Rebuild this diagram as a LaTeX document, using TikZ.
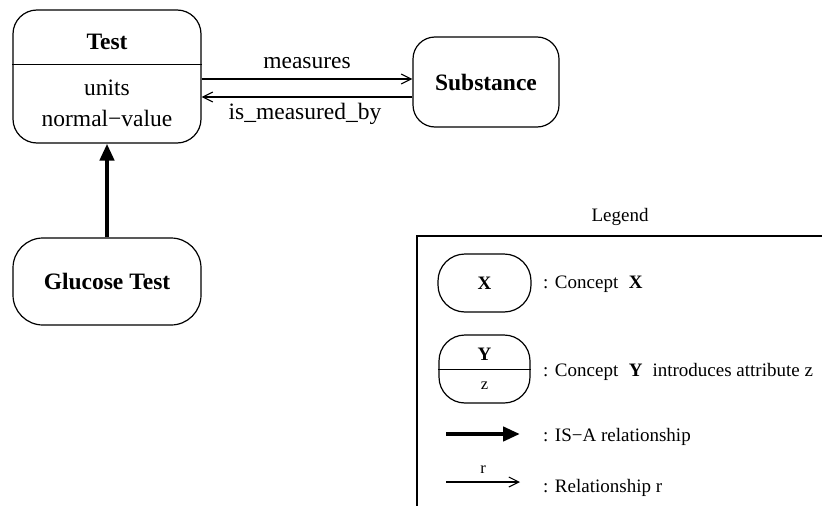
\documentclass[tikz,border=0pt]{standalone}
\usepackage{fontspec}
\setmainfont{Liberation Serif}
\usetikzlibrary{arrows.meta,calc}
\begin{document}
\begin{tikzpicture}[x=1pt,y=-1pt,
  concept/.style={draw,line width=1.2pt,rounded corners=#1,inner sep=0pt},
  concept/.default=24pt,
  bigtxt/.style={font=\fontsize{23.5}{28}\selectfont,inner sep=0pt},
  smalltxt/.style={font=\fontsize{19}{23}\selectfont,inner sep=0pt},
  tinytxt/.style={font=\fontsize{16.5}{20}\selectfont,inner sep=0pt},
  rel/.style={line width=1.2pt,-{Straight Barb[length=10pt,width=10pt,line width=1.1pt]}},
  isa/.style={line width=4.5pt,-{Triangle[length=17pt,width=14pt]}},
  frame/.style={line width=1.2pt}]
\useasboundingbox (0,0) rectangle (822,506);

% main concepts
\node[concept, minimum width=188pt, minimum height=133pt] (test) at (107,76.5) {};
\draw[line width=1.2pt] ($(test.north west)+(0,55)$) -- ($(test.north east)+(0,55)$);
\node[bigtxt] (testname) at (107,42) {\textbf{Test}};
\node[bigtxt] (units) at (107,88) {units};
\node[bigtxt] (normal) at (107,118) {normal−value};

\node[concept=22pt, minimum width=146pt, minimum height=90pt, bigtxt] (sub) at (486,82) {\textbf{Substance}};

\node[concept=30pt, minimum width=188pt, minimum height=87pt, bigtxt] (gluc) at (107,281.5) {\textbf{Glucose Test}};

% relationships
\draw[rel] (test.east |- 0,79) -- (sub.west |- 0,79);
\draw[rel] (sub.west |- 0,97) -- (test.east |- 0,97);
\node[bigtxt] (measures) at (307,63) {measures};
\node[bigtxt] (measuredby) at (305,114) {is\_measured\_by};

\draw[isa] (gluc.north) -- (test.south);

% legend
\node[smalltxt] (legendtitle) at (620,217) {Legend};
\draw[frame] (822,236) -- (417,236) -- (417,506);

\node[concept=27pt, minimum width=93pt, minimum height=58pt, smalltxt] (lx) at (484.5,283) {\textbf{X}};
\node[smalltxt, anchor=west] (lxtext) at (543,284) {:\hspace{6.5pt}Concept\hspace{10.5pt}\textbf{X}};

\node[concept=26pt, minimum width=91pt, minimum height=68pt] (ly) at (484.5,369) {};
\draw[line width=1.2pt] ($(ly.north west)+(0,35)$) -- ($(ly.north east)+(0,35)$);
\node[smalltxt] (lyname) at (484.5,354) {\textbf{Y}};
\node[tinytxt] (lyattr) at (484.5,386) {z};
\node[smalltxt, anchor=west] (lytext) at (543,372) {:\hspace{6.5pt}Concept\hspace{10.5pt}\textbf{Y}\hspace{10pt}introduces attribute z};

\coordinate (isaA) at (446,434);
\coordinate (isaB) at (520,434);
\draw[isa] (isaA) -- (isaB);
\node[smalltxt, anchor=west] (isatext) at (543,437) {:\hspace{6.5pt}IS−A relationship};

\coordinate (relA) at (446,482);
\coordinate (relB) at (520,482);
\draw[rel] (relA) -- (relB);
\node[tinytxt] (relname) at (483,470) {r};
\node[smalltxt, anchor=west] (reltext) at (543,488) {:\hspace{6.5pt}Relationship r};
\end{tikzpicture}
\end{document}
